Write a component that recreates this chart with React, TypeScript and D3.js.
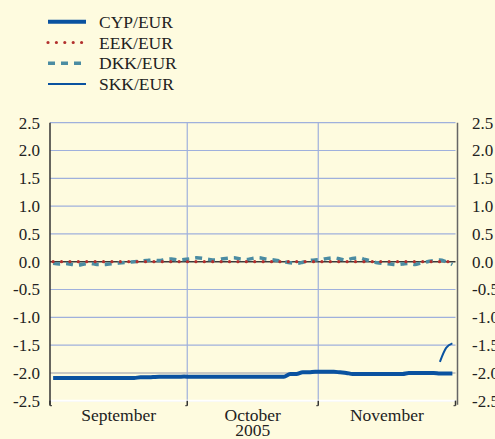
import React from "react";
import * as d3 from "d3";

// Deviations from central parity (%), business days Sep–Nov 2005
const months = ["September", "October", "November"];
const yearLabel = "2005";
const yTicks = [-2.5, -2.0, -1.5, -1.0, -0.5, 0.0, 0.5, 1.0, 1.5, 2.0, 2.5];

const cypEur = [
  -2.09, -2.09, -2.09, -2.09, -2.09, -2.09, -2.09, -2.09, -2.09, -2.09, -2.09,
  -2.09, -2.09, -2.09, -2.08, -2.08, -2.075, -2.07, -2.07, -2.07, -2.07, -2.065,
  -2.07, -2.07, -2.07, -2.07, -2.07, -2.07, -2.07, -2.07, -2.07, -2.07, -2.07,
  -2.07, -2.07, -2.07, -2.07, -2.07, -2.02, -2.02, -1.99, -1.99, -1.98,
  -1.98, -1.98, -1.98, -1.99, -2.0, -2.02, -2.02, -2.02, -2.02, -2.02, -2.02,
  -2.02, -2.02, -2.02, -2.0, -2.0, -2.0, -2.0, -2.0, -2.01, -2.01, -2.01,
];

const eekEur = new Array(65).fill(0);

const dkkEur = [
  -0.03, -0.04, -0.03, -0.05, -0.06, -0.04, -0.03, -0.05, -0.05, -0.04, -0.03,
  -0.02, -0.01, 0.0, 0.01, 0.02, 0.03, 0.02, 0.04, 0.05, 0.03, 0.04,
  0.05, 0.07, 0.06, 0.04, 0.03, 0.05, 0.06, 0.07, 0.05, 0.04, 0.06,
  0.07, 0.05, 0.04, 0.02, 0.0, -0.02, -0.03, -0.01, 0.02, 0.03,
  0.04, 0.06, 0.07, 0.05, 0.03, 0.06, 0.07, 0.04, 0.01, -0.02, -0.03,
  -0.04, -0.05, -0.04, -0.03, -0.05, -0.02, 0.0, 0.02, 0.03, 0.0, -0.05,
];

// SKK entered ERM II on 28 November 2005
const skkEur: (number | null)[] = [
  ...new Array(62).fill(null),
  -1.8, -1.55, -1.47,
];

const legendItems = [
  { label: "CYP/EUR", color: "#0a52a0", width: 4, dash: "" },
  { label: "EEK/EUR", color: "#b2302e", width: 3.2, dash: "0 8.4" },
  { label: "DKK/EUR", color: "#4b8ca2", width: 3.5, dash: "7 6" },
  { label: "SKK/EUR", color: "#0a52a0", width: 2, dash: "" },
];

// Business days of Sep–Nov 2005
const days = d3
  .timeDay
  .range(new Date(2005, 8, 1), new Date(2005, 11, 1))
  .filter((d) => d.getDay() !== 0 && d.getDay() !== 6);

const W = 495;
const H = 439;
const left = 50;
const right = 455.5;
const top = 122.7;
const bottom = 400.7;
const fontStyle = { fontFamily: '"Liberation Serif", "Times New Roman", Times, serif' };

export default function App() {
  const x = d3.scaleBand<number>().domain(d3.range(days.length)).range([left, right]);
  const y = d3.scaleLinear().domain([-2.5, 2.5]).range([bottom, top]);
  const cx = (i: number) => (x(i) as number) + x.bandwidth() / 2;

  const line = d3
    .line<number | null>()
    .defined((d) => d !== null)
    .x((_, i) => cx(i))
    .y((d) => y(d as number))
    .curve(d3.curveMonotoneX);

  const monthStarts = months.map((_, m) => days.findIndex((d) => d.getMonth() === 8 + m));
  const boundaries = [...monthStarts.map((i) => x(i) as number), right];

  return (
    <svg
      width={W}
      height={H}
      style={{ position: "absolute", left: 0, top: 0, display: "block" }}
    >
      <rect width={W} height={H} fill="#fefbdf" />

      {/* legend */}
      {legendItems.map((it, k) => {
        const ly = 21.7 + k * 20.8;
        return (
          <g key={it.label}>
            <line
              x1={48}
              x2={86}
              y1={ly}
              y2={ly}
              stroke={it.color}
              strokeWidth={it.width}
              strokeDasharray={it.dash || undefined}
              strokeLinecap={it.dash.startsWith("0") ? "round" : "butt"}
            />
            <text x={99} y={ly + 6} fontSize={17.5} fill="#222" style={fontStyle}>
              {it.label}
            </text>
          </g>
        );
      })}

      {/* horizontal gridlines */}
      {yTicks.map((t) =>
        t === 0 ? null : (
          <line
            key={t}
            x1={left}
            x2={right}
            y1={y(t)}
            y2={y(t)}
            stroke={t === -2.0 ? "#c9c9c3" : "#9fb0dc"}
            strokeWidth={t === -2.0 ? 2 : 1.2}
          />
        )
      )}
      {/* vertical month separators */}
      {boundaries.slice(1, 3).map((bx) => (
        <line key={bx} x1={bx} x2={bx} y1={top} y2={bottom} stroke="#9fb0dc" strokeWidth={1.2} />
      ))}

      {/* zero line */}
      <line x1={left} x2={right} y1={y(0)} y2={y(0)} stroke="#3a3a3a" strokeWidth={1.5} />

      {/* series */}
      <path d={line(dkkEur) || ""} fill="none" stroke="#4b8ca2" strokeWidth={3.5} strokeDasharray="7 6" />
      <path
        d={line(eekEur) || ""}
        fill="none"
        stroke="#b2302e"
        strokeWidth={3.2}
        strokeDasharray="0 8.4"
        strokeLinecap="round"
      />
      <path d={line(cypEur) || ""} fill="none" stroke="#0a52a0" strokeWidth={4} />
      <path d={line(skkEur) || ""} fill="none" stroke="#0a52a0" strokeWidth={2} />

      {/* axes */}
      <line x1={left} x2={right} y1={bottom} y2={bottom} stroke="#ffffff" strokeWidth={2} />
      <line x1={left} x2={left} y1={top} y2={bottom + 4} stroke="#333" strokeWidth={1.5} />
      <line x1={457.5} x2={457.5} y1={top} y2={bottom + 4} stroke="#666" strokeWidth={1.5} />
      {boundaries.map((bx, k) => (
        <g key={k}>
          <line x1={bx} x2={bx} y1={bottom} y2={bottom + 5} stroke="#333" strokeWidth={1.5} />
          <line
            x1={k === 0 ? bx : bx - 2}
            x2={k === 0 ? bx + 2 : bx}
            y1={bottom + 5}
            y2={bottom + 5}
            stroke="#333"
            strokeWidth={1}
          />
        </g>
      ))}

      {/* y tick labels */}
      {yTicks.map((t) => (
        <g key={t}>
          <text x={40} y={y(t)} dy="0.35em" textAnchor="end" fontSize={17} fill="#222" style={fontStyle}>
            {t.toFixed(1)}
          </text>
          <text x={472} y={y(t)} dy="0.35em" textAnchor="start" fontSize={17} fill="#222" style={fontStyle}>
            {t.toFixed(1)}
          </text>
        </g>
      ))}

      {/* month labels */}
      {months.map((m, k) => (
        <text
          key={m}
          x={(boundaries[k] + boundaries[k + 1]) / 2}
          y={420.5}
          textAnchor="middle"
          fontSize={17.5}
          fill="#222"
          style={fontStyle}
        >
          {m}
        </text>
      ))}
      <text
        x={(boundaries[1] + boundaries[2]) / 2}
        y={436}
        textAnchor="middle"
        fontSize={17.5}
        fill="#222"
        style={fontStyle}
      >
        {yearLabel}
      </text>
    </svg>
  );
}
